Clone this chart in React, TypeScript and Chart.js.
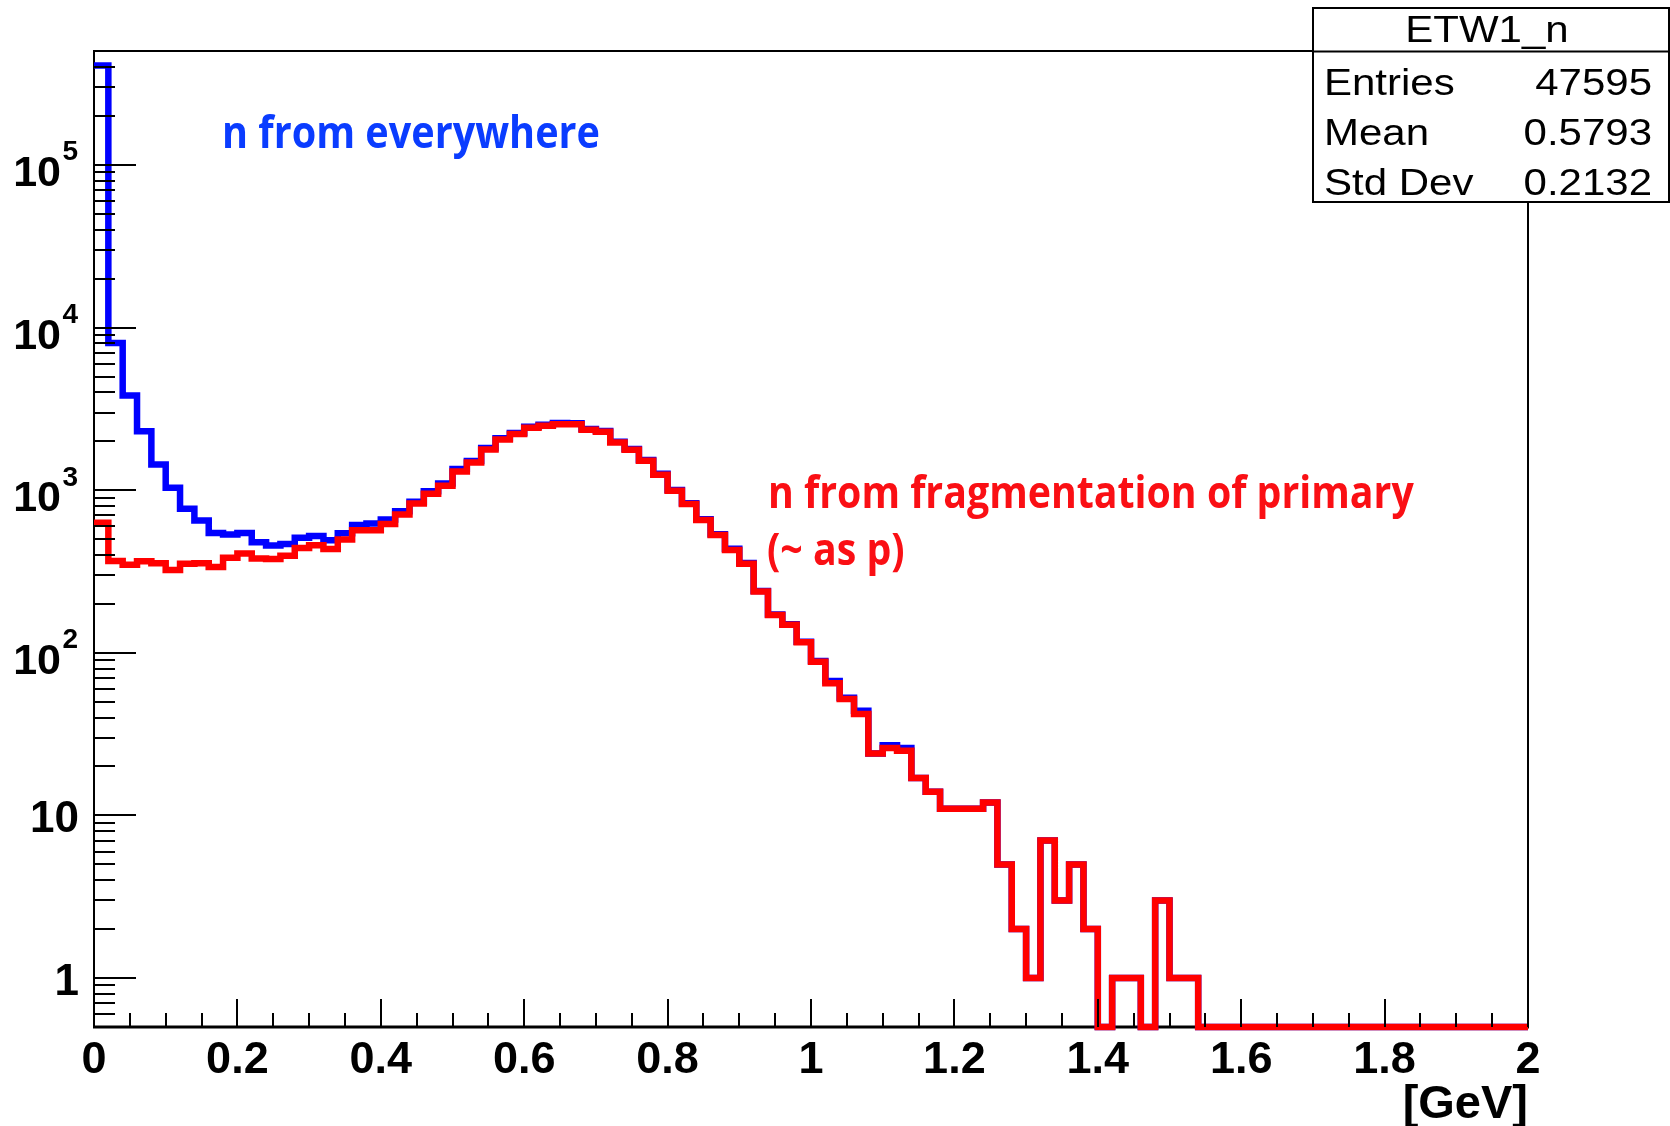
import React, { useEffect, useRef } from "react";
import { Chart, registerables } from "chart.js";

Chart.register(...registerables);

// Histogram definition: 100 bins from 0 to 2 GeV
const X_MIN = 0;
const X_MAX = 2;
const BIN_WIDTH = 0.02;

// Counts per bin, "n from everywhere" (blue)
const blueCounts = [
  409000, 8050, 3820, 2300, 1437, 1035, 769, 651, 546, 534,
  546, 478, 457, 466, 510, 522, 492, 543, 611, 623,
  660, 743, 849, 985, 1099, 1349, 1510, 1815, 2085, 2245,
  2455, 2525, 2585, 2580, 2380, 2310, 1985, 1790, 1535, 1262,
  1003, 832, 662, 536, 436, 357, 240, 172, 150, 117,
  89, 67, 53, 44, 24, 27, 26, 17, 14, 11,
  11, 11, 12, 5, 2, 1, 7, 3, 5, 2,
  0, 1, 1, 0, 3, 1, 1, 0, 0, 0,
  0, 0, 0, 0, 0, 0, 0, 0, 0, 0,
  0, 0, 0, 0, 0, 0, 0, 0, 0, 0,
];

// Counts per bin, "n from fragmentation of primary" (red)
const redCounts = [
  630, 367, 348, 365, 356, 323, 353, 356, 337, 384,
  408, 380, 377, 395, 441, 459, 435, 498, 567, 567,
  619, 709, 827, 950, 1064, 1303, 1480, 1778, 2050, 2213,
  2419, 2490, 2548, 2548, 2350, 2285, 1964, 1771, 1516, 1245,
  991, 822, 655, 530, 429, 353, 238, 171, 149, 116,
  88, 65, 52, 42, 24, 26, 25, 17, 14, 11,
  11, 11, 12, 5, 2, 1, 7, 3, 5, 2,
  0, 1, 1, 0, 3, 1, 1, 0, 0, 0,
  0, 0, 0, 0, 0, 0, 0, 0, 0, 0,
  0, 0, 0, 0, 0, 0, 0, 0, 0, 0,
];

const Y_MIN = 0.5;
const Y_MAX = 5.02e5;

const xTickLabels = ["0", "0.2", "0.4", "0.6", "0.8", "1", "1.2", "1.4", "1.6", "1.8", "2"];
const xMajorStep = 0.2;
const xMinorStep = 0.05;
const yDecades = [0, 1, 2, 3, 4, 5];

const statsTitle = "ETW1_n";
const statsRows = [
  ["Entries", "47595"],
  ["Mean", "0.5793"],
  ["Std Dev", "0.2132"],
];

const blueLabel = "n from everywhere";
const redLabel1 = "n from fragmentation of primary";
const redLabel2 = "(~ as p)";
const xAxisTitle = "[GeV]";

const HELV = "'Liberation Sans', Arial, Helvetica, sans-serif";
const CAL = "'Open Sans', 'Noto Sans', sans-serif";

function toSteps(counts: number[]) {
  // ROOT draws empty bins on the frame bottom of a log plot
  const pts = counts.map((c, i) => ({
    x: X_MIN + i * BIN_WIDTH,
    y: c > 0 ? c : Y_MIN,
  }));
  const last = counts[counts.length - 1];
  pts.push({ x: X_MAX, y: last > 0 ? last : Y_MIN });
  return pts;
}

function fitSize(ctx: CanvasRenderingContext2D, text: string, weight: string, family: string, targetW: number) {
  ctx.font = `${weight} 100px ${family}`;
  const w = ctx.measureText(text).width;
  return (100 * targetW) / w;
}

const rootPlugin = {
  id: "rootStyle",
  beforeDatasetsDraw(chart: any) {
    const { ctx, chartArea } = chart;
    const { left, right, top, bottom } = chartArea;
    ctx.save();
    ctx.strokeStyle = "#000";
    ctx.lineWidth = 2;
    ctx.beginPath();
    ctx.moveTo(left, bottom);
    ctx.lineTo(left, top);
    ctx.lineTo(right, top);
    ctx.lineTo(right, bottom);
    ctx.stroke();
    ctx.lineWidth = 3;
    ctx.beginPath();
    ctx.moveTo(left - 1, bottom);
    ctx.lineTo(right + 1, bottom);
    ctx.stroke();
    ctx.restore();
  },
  afterDatasetsDraw(chart: any) {
    const { ctx, chartArea } = chart;
    const { left, right, bottom } = chartArea;
    const xs = chart.scales.x;
    const ys = chart.scales.y;
    ctx.save();
    ctx.strokeStyle = "#000";
    ctx.fillStyle = "#000";
    ctx.lineWidth = 2;

    // y ticks (inside the frame)
    ctx.beginPath();
    for (let d = -1; d <= 5; d++) {
      for (let m = 1; m <= 9; m++) {
        const v = m * Math.pow(10, d);
        if (v < Y_MIN - 1e-9 || v > Y_MAX) continue;
        const y = Math.round(ys.getPixelForValue(v));
        const len = m === 1 ? 42 : 21;
        ctx.moveTo(left, y);
        ctx.lineTo(left + len, y);
      }
    }
    ctx.stroke();

    // x ticks
    ctx.beginPath();
    const nMinor = Math.round((X_MAX - X_MIN) / xMinorStep);
    const ratio = Math.round(xMajorStep / xMinorStep);
    for (let i = 0; i <= nMinor; i++) {
      const v = X_MIN + i * xMinorStep;
      const x = Math.round(xs.getPixelForValue(v));
      const len = i % ratio === 0 ? 28 : 14;
      ctx.moveTo(x, bottom);
      ctx.lineTo(x, bottom - len);
    }
    ctx.stroke();

    // x labels
    ctx.font = `bold 45px ${HELV}`;
    ctx.textAlign = "center";
    ctx.textBaseline = "alphabetic";
    xTickLabels.forEach((lab, i) => {
      const x = xs.getPixelForValue(X_MIN + i * xMajorStep);
      ctx.fillText(lab, x, 1073);
    });

    // x axis title
    ctx.font = `bold 47px ${HELV}`;
    ctx.textAlign = "right";
    ctx.fillText(xAxisTitle, right, 1118);

    // y labels
    yDecades.forEach((d) => {
      const y = ys.getPixelForValue(Math.pow(10, d));
      if (d === 0 || d === 1) {
        ctx.font = `bold 44px ${HELV}`;
        ctx.textAlign = "right";
        ctx.fillText(d === 0 ? "1" : "10", 79, y + 16.5);
      } else {
        ctx.font = `bold 43px ${HELV}`;
        ctx.textAlign = "right";
        ctx.fillText("10", 61, y + 21);
        ctx.font = `bold 28px ${HELV}`;
        ctx.fillText(String(d), 78, y - 4.5);
      }
    });

    // annotations (stretched slightly in height to match the reference face)
    const drawTall = (t: string, x: number, y: number, sy: number) => {
      ctx.save();
      ctx.translate(x, y);
      ctx.scale(1, sy);
      ctx.textAlign = "left";
      ctx.fillText(t, 0, 0);
      ctx.restore();
    };
    ctx.fillStyle = "#0a3cff";
    let fs = fitSize(ctx, blueLabel, "bold", CAL, 378);
    ctx.font = `bold ${fs}px ${CAL}`;
    drawTall(blueLabel, 222, 148, 1.12);

    ctx.fillStyle = "#fa0f14";
    fs = fitSize(ctx, redLabel1, "bold", CAL, 646);
    ctx.font = `bold ${fs}px ${CAL}`;
    drawTall(redLabel1, 768, 508, 1.12);
    drawTall(redLabel2, 767, 565, 1.12);

    // stats box
    const bx = 1313, by = 8, bw = 1669 - 1313, bh = 202 - 8;
    ctx.fillStyle = "#fff";
    ctx.fillRect(bx, by, bw, bh);
    ctx.strokeStyle = "#000";
    ctx.lineWidth = 2;
    ctx.strokeRect(bx, by, bw, bh);
    ctx.beginPath();
    ctx.moveTo(bx, 51.5);
    ctx.lineTo(bx + bw, 51.5);
    ctx.stroke();

    ctx.fillStyle = "#000";
    ctx.font = `37.5px ${HELV}`;
    const sx = 1.12;
    const drawScaled = (t: string, x: number, y: number, align: CanvasTextAlign) => {
      ctx.save();
      ctx.translate(x, y);
      ctx.scale(sx, 1);
      ctx.textAlign = align;
      ctx.fillText(t, 0, 0);
      ctx.restore();
    };
    drawScaled(statsTitle, 1487, 42, "center");
    const rowY = [95, 145, 195];
    statsRows.forEach((r, i) => {
      drawScaled(r[0], 1324, rowY[i], "left");
      drawScaled(r[1], 1652, rowY[i], "right");
    });

    ctx.restore();
  },
};

export default function App() {
  const ref = useRef<HTMLCanvasElement | null>(null);
  useEffect(() => {
    if (!ref.current) return;
    const chart = new Chart(ref.current, {
      type: "line",
      data: {
        datasets: [
          {
            label: "fragmentation",
            data: toSteps(redCounts),
            borderColor: "#ff0000",
            borderWidth: 6.5,
            stepped: true,
            pointRadius: 0,
            fill: false,
            clip: false as any,
            borderJoinStyle: "miter",
            borderCapStyle: "butt",
          },
          {
            label: "everywhere",
            data: toSteps(blueCounts),
            borderColor: "#0000ff",
            borderWidth: 6.5,
            stepped: true,
            pointRadius: 0,
            fill: false,
            clip: false as any,
            borderJoinStyle: "miter",
            borderCapStyle: "butt",
          },
        ],
      },
      options: {
        animation: false,
        responsive: false,
        devicePixelRatio: 1,
        layout: { padding: { left: 94, right: 142, top: 51, bottom: 99 } },
        plugins: { legend: { display: false }, tooltip: { enabled: false } },
        scales: {
          x: { type: "linear", min: X_MIN, max: X_MAX, display: false },
          y: { type: "logarithmic", min: Y_MIN, max: Y_MAX, display: false },
        },
      },
      plugins: [rootPlugin],
    } as any);
    return () => chart.destroy();
  }, []);
  return (
    <div style={{ position: "fixed", left: 0, top: 0, width: 1670, height: 1126, background: "#fff" }}>
      <canvas ref={ref} width={1670} height={1126} style={{ display: "block", width: 1670, height: 1126 }} />
    </div>
  );
}
